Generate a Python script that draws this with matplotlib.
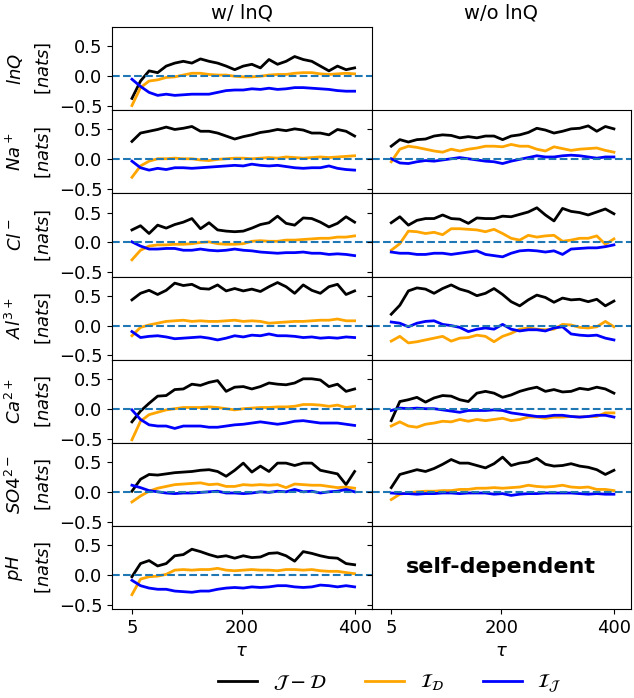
import numpy as np
import matplotlib
matplotlib.use("Agg")
import matplotlib.pyplot as plt

# tau grid the curves were read at
tau = np.linspace(5, 400, 27)

# ---- w/ lnQ column ----
lnq_jd = [-0.37, -0.08, 0.09, 0.06, 0.17, 0.22, 0.25, 0.22, 0.29, 0.25, 0.22, 0.17, 0.11, 0.17, 0.20, 0.14, 0.28, 0.20, 0.25, 0.33, 0.28, 0.25, 0.17, 0.09, 0.17, 0.11, 0.14]
lnq_id = [-0.49, -0.19, -0.08, -0.06, -0.02, -0.01, 0.02, 0.05, 0.05, 0.03, 0.02, 0.02, 0.00, -0.01, -0.01, 0.00, 0.02, 0.03, 0.03, 0.05, 0.06, 0.06, 0.04, 0.03, 0.04, 0.05, 0.04]
lnq_ij = [-0.05, -0.17, -0.27, -0.32, -0.30, -0.32, -0.31, -0.30, -0.30, -0.30, -0.27, -0.24, -0.23, -0.23, -0.21, -0.22, -0.20, -0.22, -0.21, -0.19, -0.19, -0.20, -0.21, -0.22, -0.24, -0.25, -0.25]

na_jd = [0.30, 0.44, 0.47, 0.50, 0.54, 0.50, 0.52, 0.55, 0.47, 0.47, 0.44, 0.39, 0.34, 0.38, 0.41, 0.45, 0.47, 0.50, 0.48, 0.51, 0.49, 0.44, 0.44, 0.41, 0.50, 0.47, 0.39]
na_id = [-0.30, -0.11, -0.03, 0.01, 0.01, 0.02, 0.01, 0.01, -0.01, -0.02, 0.00, 0.01, 0.02, 0.02, 0.01, 0.02, 0.03, 0.02, 0.04, 0.03, 0.02, 0.03, 0.04, 0.03, 0.04, 0.05, 0.06]
na_ij = [-0.03, -0.14, -0.18, -0.15, -0.17, -0.14, -0.14, -0.15, -0.14, -0.13, -0.12, -0.11, -0.10, -0.11, -0.08, -0.10, -0.11, -0.10, -0.12, -0.14, -0.15, -0.14, -0.14, -0.11, -0.15, -0.17, -0.18]

cl_jd = [0.21, 0.28, 0.15, 0.29, 0.24, 0.30, 0.34, 0.40, 0.23, 0.33, 0.21, 0.19, 0.18, 0.19, 0.24, 0.30, 0.33, 0.44, 0.32, 0.29, 0.41, 0.40, 0.34, 0.26, 0.32, 0.43, 0.34]
cl_id = [-0.29, -0.13, -0.06, -0.04, -0.04, -0.03, -0.03, -0.02, 0.00, 0.01, -0.02, -0.03, -0.03, -0.02, 0.02, 0.03, 0.02, 0.02, 0.04, 0.04, 0.05, 0.06, 0.07, 0.07, 0.09, 0.09, 0.11]
cl_ij = [0.01, -0.06, -0.11, -0.11, -0.10, -0.10, -0.13, -0.13, -0.11, -0.13, -0.14, -0.13, -0.11, -0.13, -0.14, -0.16, -0.17, -0.18, -0.17, -0.17, -0.16, -0.18, -0.18, -0.20, -0.19, -0.20, -0.22]

al_jd = [0.43, 0.54, 0.59, 0.52, 0.59, 0.71, 0.67, 0.69, 0.62, 0.61, 0.68, 0.58, 0.62, 0.58, 0.61, 0.57, 0.65, 0.72, 0.65, 0.54, 0.68, 0.59, 0.54, 0.65, 0.69, 0.52, 0.58]
al_id = [-0.17, -0.03, 0.01, 0.04, 0.07, 0.08, 0.09, 0.07, 0.08, 0.07, 0.07, 0.08, 0.09, 0.07, 0.08, 0.07, 0.04, 0.05, 0.06, 0.07, 0.07, 0.08, 0.09, 0.09, 0.11, 0.08, 0.08]
al_ij = [-0.10, -0.20, -0.18, -0.17, -0.19, -0.22, -0.21, -0.20, -0.19, -0.21, -0.24, -0.21, -0.17, -0.19, -0.16, -0.17, -0.14, -0.17, -0.17, -0.18, -0.20, -0.19, -0.21, -0.20, -0.21, -0.19, -0.20]

ca_jd = [-0.22, -0.04, 0.09, 0.21, 0.22, 0.32, 0.33, 0.41, 0.39, 0.44, 0.47, 0.29, 0.36, 0.37, 0.33, 0.37, 0.43, 0.41, 0.40, 0.43, 0.50, 0.50, 0.48, 0.37, 0.41, 0.29, 0.33]
ca_id = [-0.52, -0.21, -0.10, -0.06, -0.02, 0.00, 0.02, 0.02, 0.02, 0.03, 0.02, 0.00, -0.02, 0.00, 0.01, 0.02, 0.02, 0.03, 0.03, 0.04, 0.07, 0.07, 0.06, 0.04, 0.06, 0.02, 0.04]
ca_ij = [-0.02, -0.18, -0.27, -0.29, -0.29, -0.33, -0.29, -0.29, -0.29, -0.31, -0.31, -0.29, -0.27, -0.26, -0.24, -0.22, -0.24, -0.26, -0.24, -0.21, -0.20, -0.22, -0.24, -0.24, -0.24, -0.26, -0.28]

so4_jd = [0.01, 0.21, 0.29, 0.28, 0.30, 0.32, 0.33, 0.34, 0.36, 0.37, 0.34, 0.26, 0.36, 0.48, 0.33, 0.43, 0.34, 0.48, 0.48, 0.44, 0.48, 0.48, 0.36, 0.33, 0.30, 0.12, 0.34]
so4_id = [-0.17, -0.07, 0.01, 0.06, 0.09, 0.12, 0.13, 0.14, 0.15, 0.12, 0.13, 0.09, 0.09, 0.12, 0.11, 0.12, 0.11, 0.12, 0.07, 0.13, 0.12, 0.11, 0.11, 0.09, 0.07, 0.08, 0.06]
so4_ij = [0.11, 0.07, 0.02, 0.00, -0.02, -0.03, -0.02, -0.02, -0.01, 0.00, 0.01, -0.02, -0.02, -0.03, -0.02, 0.00, -0.01, 0.01, 0.00, 0.04, 0.00, 0.01, -0.02, 0.00, 0.01, 0.04, 0.00]

ph_jd = [-0.03, 0.19, 0.24, 0.15, 0.19, 0.32, 0.34, 0.43, 0.39, 0.34, 0.30, 0.32, 0.28, 0.32, 0.29, 0.30, 0.36, 0.37, 0.32, 0.23, 0.39, 0.36, 0.32, 0.29, 0.28, 0.19, 0.17]
ph_id = [-0.33, -0.07, -0.03, -0.02, 0.01, 0.08, 0.09, 0.08, 0.09, 0.09, 0.11, 0.08, 0.07, 0.08, 0.09, 0.08, 0.08, 0.07, 0.09, 0.09, 0.08, 0.09, 0.07, 0.06, 0.06, 0.04, 0.02]
ph_ij = [-0.09, -0.18, -0.22, -0.24, -0.24, -0.27, -0.28, -0.29, -0.27, -0.27, -0.24, -0.22, -0.21, -0.22, -0.20, -0.21, -0.20, -0.18, -0.18, -0.20, -0.21, -0.20, -0.17, -0.18, -0.20, -0.18, -0.20]

# ---- w/o lnQ column ----
na_jd_wo = [0.22, 0.33, 0.29, 0.33, 0.34, 0.39, 0.41, 0.40, 0.36, 0.38, 0.36, 0.39, 0.39, 0.33, 0.39, 0.41, 0.45, 0.52, 0.49, 0.44, 0.47, 0.51, 0.52, 0.56, 0.47, 0.55, 0.51]
na_id_wo = [-0.04, 0.17, 0.22, 0.20, 0.17, 0.14, 0.12, 0.17, 0.14, 0.17, 0.19, 0.22, 0.22, 0.21, 0.25, 0.22, 0.22, 0.17, 0.14, 0.21, 0.18, 0.15, 0.17, 0.18, 0.19, 0.15, 0.12]
na_ij_wo = [0.01, -0.06, -0.07, -0.04, -0.02, -0.03, -0.01, 0.01, 0.03, 0.01, -0.01, -0.03, -0.04, -0.07, -0.03, 0.00, 0.03, 0.06, 0.04, 0.04, 0.06, 0.07, 0.06, 0.04, 0.02, 0.04, 0.04]

cl_jd_wo = [0.33, 0.43, 0.29, 0.37, 0.40, 0.40, 0.46, 0.40, 0.39, 0.32, 0.41, 0.40, 0.40, 0.44, 0.43, 0.47, 0.51, 0.58, 0.46, 0.36, 0.57, 0.52, 0.50, 0.46, 0.51, 0.56, 0.48]
cl_id_wo = [-0.13, -0.02, 0.19, 0.18, 0.15, 0.17, 0.13, 0.23, 0.23, 0.22, 0.21, 0.18, 0.22, 0.15, 0.07, 0.04, 0.12, 0.09, 0.11, 0.12, 0.02, 0.04, 0.07, 0.07, 0.11, -0.03, 0.06]
cl_ij_wo = [-0.16, -0.18, -0.18, -0.20, -0.20, -0.18, -0.18, -0.20, -0.18, -0.16, -0.14, -0.20, -0.22, -0.24, -0.18, -0.14, -0.13, -0.14, -0.16, -0.14, -0.20, -0.11, -0.10, -0.09, -0.09, -0.07, -0.04]

al_jd_wo = [0.19, 0.34, 0.58, 0.63, 0.61, 0.54, 0.62, 0.68, 0.61, 0.57, 0.50, 0.54, 0.62, 0.52, 0.40, 0.33, 0.43, 0.51, 0.47, 0.39, 0.46, 0.43, 0.44, 0.40, 0.44, 0.33, 0.41]
al_id_wo = [-0.26, -0.18, -0.29, -0.27, -0.24, -0.21, -0.18, -0.26, -0.21, -0.20, -0.16, -0.18, -0.27, -0.18, -0.13, -0.06, -0.04, -0.06, -0.07, -0.06, 0.02, 0.01, -0.03, -0.04, -0.02, 0.07, -0.02]
al_ij_wo = [0.06, 0.04, -0.02, 0.04, 0.07, 0.08, 0.02, 0.00, -0.03, -0.10, -0.06, -0.04, -0.06, 0.02, -0.06, -0.09, -0.07, -0.07, -0.09, -0.04, -0.02, -0.14, -0.16, -0.17, -0.16, -0.21, -0.24]

ca_jd_wo = [-0.20, 0.12, 0.15, 0.19, 0.11, 0.18, 0.22, 0.21, 0.15, 0.12, 0.26, 0.29, 0.26, 0.19, 0.23, 0.29, 0.33, 0.36, 0.29, 0.32, 0.28, 0.29, 0.34, 0.32, 0.36, 0.33, 0.26]
ca_id_wo = [-0.29, -0.22, -0.29, -0.31, -0.26, -0.24, -0.21, -0.22, -0.18, -0.21, -0.18, -0.20, -0.18, -0.16, -0.20, -0.18, -0.14, -0.14, -0.16, -0.14, -0.14, -0.13, -0.14, -0.13, -0.13, -0.07, -0.07]
ca_ij_wo = [-0.03, 0.01, 0.00, 0.01, 0.00, 0.00, -0.02, -0.04, -0.06, -0.03, -0.03, -0.03, -0.02, -0.03, -0.07, -0.09, -0.11, -0.13, -0.13, -0.11, -0.11, -0.13, -0.14, -0.13, -0.11, -0.11, -0.14]

so4_jd_wo = [0.07, 0.29, 0.33, 0.37, 0.34, 0.39, 0.46, 0.54, 0.48, 0.48, 0.44, 0.40, 0.47, 0.58, 0.44, 0.48, 0.50, 0.56, 0.46, 0.43, 0.44, 0.47, 0.43, 0.41, 0.37, 0.29, 0.36]
so4_id_wo = [-0.13, -0.04, -0.02, 0.00, 0.01, 0.01, 0.02, 0.02, 0.04, 0.04, 0.06, 0.06, 0.07, 0.06, 0.07, 0.08, 0.11, 0.09, 0.08, 0.09, 0.11, 0.08, 0.07, 0.08, 0.04, 0.04, 0.02]
so4_ij_wo = [-0.02, -0.03, -0.03, -0.04, -0.03, -0.03, -0.02, -0.02, -0.03, -0.02, -0.02, -0.02, -0.04, -0.03, -0.06, -0.04, -0.03, -0.03, -0.02, -0.02, -0.02, -0.02, -0.03, -0.04, -0.03, -0.04, -0.04]

row_names = ["lnQ", "Na^+", "Cl^-", "Al^{3+}", "Ca^{2+}", "SO4^{2-}", "pH"]
with_data = [(lnq_jd, lnq_id, lnq_ij), (na_jd, na_id, na_ij), (cl_jd, cl_id, cl_ij),
             (al_jd, al_id, al_ij), (ca_jd, ca_id, ca_ij), (so4_jd, so4_id, so4_ij),
             (ph_jd, ph_id, ph_ij)]
without_data = [None, (na_jd_wo, na_id_wo, na_ij_wo), (cl_jd_wo, cl_id_wo, cl_ij_wo),
                (al_jd_wo, al_id_wo, al_ij_wo), (ca_jd_wo, ca_id_wo, ca_ij_wo),
                (so4_jd_wo, so4_id_wo, so4_ij_wo), None]

labels = [r"$\mathcal{J}-\mathcal{D}$", r"$\mathcal{I}_\mathcal{D}$", r"$\mathcal{I}_\mathcal{J}$"]
colors = ["black", "orange", "blue"]

plt.rcParams["font.size"] = 13

fig, axes = plt.subplots(7, 2, figsize=(6.34, 6.98), dpi=100, sharex=True, sharey=True)
fig.subplots_adjust(left=0.177, right=0.995, top=0.961, bottom=0.1275, wspace=0, hspace=0)

def draw(ax, series):
    for s, c, lab in zip(series, colors, labels):
        ax.plot(tau, s, color=c, lw=2, label=lab)
    ax.axhline(0, color="C0", ls="--", lw=1.5)

for i in range(7):
    axl = axes[i, 0]
    axr = axes[i, 1]
    draw(axl, with_data[i])
    axl.set_ylabel("$" + row_names[i] + "$\n$[nats]$", linespacing=1.6)
    if without_data[i] is not None:
        draw(axr, without_data[i])

axes[0, 1].axis("off")
axes[6, 1].text(0.5, 0.5, "self-dependent", transform=axes[6, 1].transAxes,
                ha="center", va="center", fontsize=16, fontweight="bold")

axes[0, 0].set_xlim(-30, 430)
axes[0, 0].set_ylim(-0.57, 0.82)
axes[0, 0].set_xticks([5, 200, 400])
axes[0, 0].set_yticks([-0.5, 0.0, 0.5])
axes[6, 1].tick_params(labelbottom=True)
for ax in axes[6]:
    ax.set_xlabel(r"$\tau$")

axes[0, 0].set_title("w/ lnQ", fontsize=14)
axes[0, 1].set_title("w/o lnQ", fontsize=14)

handles, labs = axes[1, 0].get_legend_handles_labels()
fig.legend(handles[:3], labs[:3], loc="center", bbox_to_anchor=(0.615, 0.02),
           ncol=3, frameon=False, fontsize=14)

fig.savefig("out.png", dpi=100)
